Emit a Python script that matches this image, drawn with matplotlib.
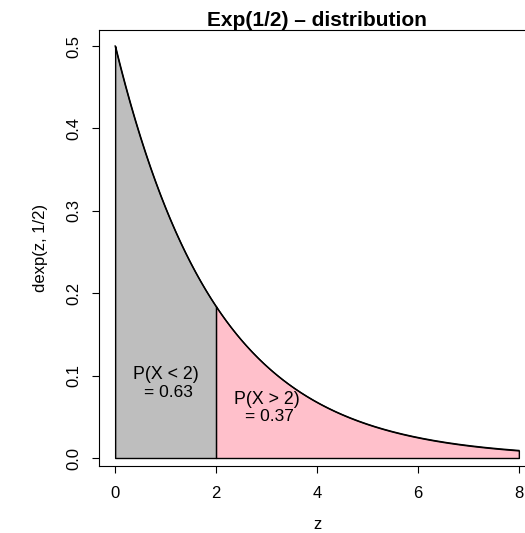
import numpy as np
import matplotlib
matplotlib.use("Agg")
import matplotlib.pyplot as plt

# -------------------- Data --------------------
rate = 0.5                     # Exp(1/2)
z_max = 8
cut = 2
z = np.linspace(0, z_max, 401)
dens = rate * np.exp(-rate * z)

x_ticks = [0, 2, 4, 6, 8]
y_ticks = [0.0, 0.1, 0.2, 0.3, 0.4, 0.5]
y_tick_labels = ["0.0", "0.1", "0.2", "0.3", "0.4", "0.5"]

p_left = 0.63
p_right = 0.37
# ----------------------------------------------

plt.rcParams['font.family'] = ['Liberation Sans', 'DejaVu Sans']

fig = plt.figure(figsize=(5.25, 5.33), dpi=100)
ax = fig.add_axes([99 / 525, 67 / 533, 436 / 525, 436 / 533])

left = z <= cut
right = z >= cut
ax.fill_between(z[left], 0, dens[left], facecolor="#BEBEBE",
                edgecolor="black", linewidth=1)
ax.fill_between(z[right], 0, dens[right], facecolor="#FFC0CB",
                edgecolor="black", linewidth=1)
ax.plot(z, dens, color="black", linewidth=1)

ax.text(1, 0.101, "P(X < 2)", ha="center", va="center", fontsize=12.8)
ax.text(1.05, 0.080, "= %.2f" % p_left, ha="center", va="center", fontsize=12.5)
ax.text(3, 0.071, "P(X > 2)", ha="center", va="center", fontsize=12.8)
ax.text(3.05, 0.050, "= %.2f" % p_right, ha="center", va="center", fontsize=12.5)

ax.set_xlim(-0.32, 8.32)
ax.set_ylim(-8 / 824, 0.5 + 16 / 824)
ax.set_xticks(x_ticks)
ax.set_yticks(y_ticks)
ax.set_yticklabels(y_tick_labels, rotation=90, va="center")

ax.tick_params(axis="both", direction="out", length=5, width=0.8,
               labelsize=12, color="black")
ax.tick_params(axis="x", pad=9.5)
ax.tick_params(axis="y", pad=8)
for s in ax.spines.values():
    s.set_linewidth(0.8)
    s.set_color("black")

ax.set_title("Exp(1/2) \u2013 distribution", fontsize=15, fontweight="bold", pad=2)
ax.set_xlabel("z", fontsize=12, va="baseline")
ax.xaxis.set_label_coords(0.5, -63 / 436)
ax.set_ylabel("dexp(z, 1/2)", fontsize=12, va="center")
ax.yaxis.set_label_coords(-59 / 436, 0.5)

fig.savefig("out.png", dpi=100)
